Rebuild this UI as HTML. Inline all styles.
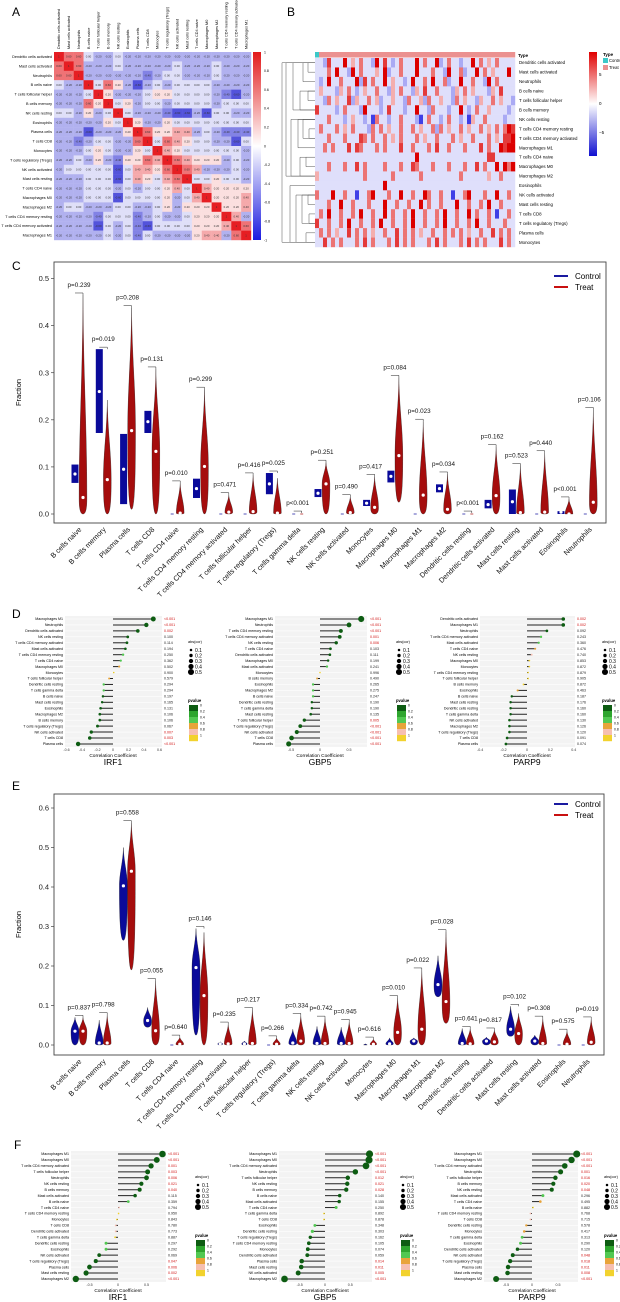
<!DOCTYPE html>
<html><head><meta charset="utf-8">
<style>
html,body{margin:0;padding:0;background:#fff;}
svg{display:block;font-family:"Liberation Sans",Arial,sans-serif;}
</style></head>
<body>
<svg id="fig" xmlns="http://www.w3.org/2000/svg" width="620" height="1302" viewBox="0 0 620 1302">
<rect x="0" y="0" width="620" height="1302" fill="#fff"/>
<text x="12" y="16" font-size="12">A</text>
<text x="287" y="16" font-size="12">B</text>
<text x="12" y="270" font-size="12">C</text>
<text x="12" y="618" font-size="12">D</text>
<text x="12" y="790" font-size="12">E</text>
<text x="14" y="1149" font-size="12">F</text>
<g id="gA"></g>
<g id="gB"></g>
<g id="gC"></g>
<g id="gD"></g>
<g id="gE"></g>
<g id="gF"></g>
</svg>
<script>
const NS="http://www.w3.org/2000/svg";
function mk(parent,tag,attrs,txt){const e=document.createElementNS(NS,tag);for(const k in attrs)e.setAttribute(k,attrs[k]);if(txt!==undefined)e.textContent=txt;parent.appendChild(e);return e;}

// ---------- Panel A data ----------
const corrLabels=["Dendritic cells activated","Mast cells activated","Neutrophils","B cells naive","T cells follicular helper","B cells memory","NK cells resting","Eosinophils","Plasma cells","T cells CD8","Monocytes","T cells regulatory (Tregs)","NK cells activated","Mast cells resting","T cells CD4 naive","Macrophages M0","Macrophages M2","T cells CD4 memory resting","T cells CD4 memory activated","Macrophages M1"];
const corrUpper=["97743343333333333333",".9733343333343334333","..933333323443334333","...94753134344443333","....9533345544443213",".....945344344443444","......94333211314433",".......9533544444444","........975566343222",".........94765443314","..........9654444443","...........976555343","............97633343",".............9445443","..............965555","...............95556","................9556",".................963","..................97","...................9"];
const corrTicks=["1","0.8","0.6","0.4","0.2","0","-0.2","-0.4","-0.6","-0.8","-1"];

// ---------- Panel B data ----------
const heatRows=["Dendritic cells activated","Mast cells activated","Neutrophils","B cells naive","T cells follicular helper","B cells memory","NK cells resting","T cells CD4 memory resting","T cells CD4 memory activated","Macrophages M1","T cells CD4 naive","Macrophages M0","Macrophages M2","Eosinophils","NK cells activated","Mast cells resting","T cells CD8","T cells regulatory (Tregs)","Plasma cells","Monocytes"];
const heatVals=["44384449464744394843474449474493474434494746474444","44474944394744464934474449444744394473449474644494","43494474449384744946443494474944734494474439474444","46444364743464474436474436484474443647464443648444","44374644836447463446443744637446443746443644746443","84444347444394443484443449443744434494347446444434","44474443464434174434474443147443474434164474444344","47444746474443747464474474644737464474644746474798","44474447444874744746474447464474447464474447464889","44747444848744474744484474447484474447444847449899","44444444444444444444444449444444444444444448844444","44474447448474444744474487444744474447448474494979","64444444444474444447444444744444444474444446447444","44444444444444444944444444444444444444444444444444","74449447441447944474494474497447441447944474494474","44474494474447444944744744947447444944744749447444","47494474474944744947447494474474944744947447414474","84474474944744749447447494474474944744749447444744","47474644847474644744847474644744747474644744847474","44847474447484744474847474447484744474847474448474"];
const heatTypes="C"+"T".repeat(49);
const dendro=[[0,1,308],[0,2,303],[3,4,308],[3,5,300],[0,5,293],[7,8,309],[6,8,303],[6,9,298],[10,11,306],[10,12,300],[6,12,291],[0,12,286],[14,15,308],[16,17,309],[14,17,302],[18,19,306],[14,19,296],[13,19,290],[0,19,282]];

// ---------- Violin data ----------
const cellTypes=["B cells naive","B cells memory","Plasma cells","T cells CD8","T cells CD4 naive","T cells CD4 memory resting","T cells CD4 memory activated","T cells follicular helper","T cells regulatory (Tregs)","T cells gamma delta","NK cells resting","NK cells activated","Monocytes","Macrophages M0","Macrophages M1","Macrophages M2","Dendritic cells resting","Dendritic cells activated","Mast cells resting","Mast cells activated","Eosinophils","Neutrophils"];
const cCtrlMin=[0.066,0.172,0.021,0.172,0,0.034,0,0,0.042,0,0.036,0,0.017,0.067,0,0.046,0,0.012,0,0,0,0];
const cCtrlMax=[0.105,0.35,0.17,0.219,0,0.075,0,0,0.087,0,0.053,0,0.03,0.092,0,0.063,0,0.03,0.052,0,0.006,0];
const cCtrlMed=[0.085,0.26,0.095,0.196,0,0.054,0,0,0.064,0,0.044,0,0.023,0.08,0,0.054,0,0.02,0.026,0,0.004,0];
const cTreatMin=[0,0,0.01,0,0,0,0,0,0,0,0,0,0,0.025,0,0,0,0,0,0,0,0];
const cTreatMax=[0.465,0.242,0.438,0.308,0.066,0.265,0.041,0.083,0.076,0.002,0.11,0.037,0.08,0.29,0.197,0.085,0.002,0.143,0.103,0.13,0.032,0.222];
const cTreatMed=[0.035,0.073,0.177,0.133,0.002,0.101,0.004,0.005,0.002,0,0.064,0.003,0.014,0.124,0.04,0.01,0,0.039,0.003,0.004,0,0.025];
const cPvals=["p=0.239","p=0.019","p=0.208","p=0.131","p=0.010","p=0.299","p=0.471","p=0.416","p=0.025","p<0.001","p=0.251","p=0.490","p=0.417","p=0.084","p=0.023","p=0.034","p<0.001","p=0.162","p=0.523","p=0.440","p<0.001","p=0.106"];
const cTicks=[0,0.1,0.2,0.3,0.4,0.5];

const eCtrlMin=[0,0,0.265,0.045,0,0.025,0,0,0,0,0,0,0,0,0,0.122,0,0,0.022,0,0,0];
const eCtrlMax=[0.07,0.063,0.5,0.095,0.002,0.295,0.008,0.01,0.002,0.04,0.047,0.045,0.003,0.018,0.018,0.226,0.042,0.02,0.098,0.025,0.001,0.001];
const eCtrlMed=[0.035,0.005,0.403,0.062,0,0.196,0.003,0.003,0,0.005,0.004,0.004,0,0.003,0.01,0.153,0.004,0.01,0.04,0.01,0,0];
const eTreatMin=[0,0,0.19,0,0,0,0,0,0,0,0,0,0,0,0,0.055,0,0,0,0,0,0];
const eTreatMax=[0.07,0.077,0.563,0.163,0.02,0.285,0.053,0.09,0.018,0.075,0.068,0.06,0.015,0.12,0.19,0.287,0.042,0.038,0.08,0.068,0.035,0.066];
const eTreatMed=[0.035,0.005,0.44,0.036,0.002,0.125,0.003,0.004,0.002,0.01,0.004,0.004,0.002,0.032,0.04,0.11,0.003,0.008,0.029,0.004,0.002,0.007];
const ePvals=["p=0.837","p=0.798","p=0.558","p=0.055","p=0.640","p=0.146","p=0.235","p=0.217","p=0.266","p=0.334","p=0.742","p=0.945","p=0.616","p=0.010","p=0.022","p=0.028","p=0.641","p=0.817","p=0.102","p=0.308","p=0.575","p=0.019"];
const eTicks=[0,0.1,0.2,0.3,0.4,0.5,0.6];

// ---------- Lollipop data ----------
const dIrf1Labels=["Macrophages M1","Neutrophils","Dendritic cells activated","NK cells resting","T cells CD4 memory activated","Mast cells activated","T cells CD4 memory resting","T cells CD4 naive","Macrophages M0","Monocytes","T cells follicular helper","Dendritic cells resting","T cells gamma delta","B cells naive","Mast cells resting","Eosinophils","Macrophages M2","B cells memory","T cells regulatory (Tregs)","NK cells activated","T cells CD8","Plasma cells"];
const dIrf1Vals=[0.52,0.43,0.32,0.19,0.18,0.16,0.13,0.10,0.08,0.01,-0.05,-0.12,-0.12,-0.13,-0.14,-0.16,-0.17,-0.17,-0.2,-0.28,-0.3,-0.45];
const dIrf1P=["<0.001","<0.001","0.002","0.100","0.114","0.194","0.250","0.362","0.502","0.900","0.579","0.294","0.294","0.197","0.165","0.131","0.106","0.106","0.067","0.007","0.003","<0.001"];
const dGbp5Labels=["Macrophages M1","Neutrophils","T cells CD4 memory resting","T cells CD4 memory activated","NK cells resting","T cells CD4 naive","Dendritic cells activated","Macrophages M0","Mast cells activated","Monocytes","B cells memory","Eosinophils","Macrophages M2","B cells naive","Dendritic cells resting","T cells gamma delta","Mast cells resting","T cells follicular helper","T cells regulatory (Tregs)","NK cells activated","T cells CD8","Plasma cells"];
const dGbp5Vals=[0.71,0.50,0.36,0.34,0.28,0.18,0.17,0.14,0.12,0.0,-0.05,-0.12,-0.12,-0.12,-0.14,-0.14,-0.16,-0.27,-0.34,-0.40,-0.49,-0.54];
const dGbp5P=["<0.001","<0.001","<0.001","0.001","0.006","0.103","0.111","0.199","0.241","0.996","0.490","0.265","0.275","0.247","0.190","0.190","0.135","0.005","<0.001","<0.001","<0.001","<0.001"];
const dParp9Labels=["Dendritic cells activated","Macrophages M1","Neutrophils","T cells CD4 memory activated","Mast cells activated","T cells CD4 naive","NK cells resting","Macrophages M0","Monocytes","T cells CD4 memory resting","T cells follicular helper","B cells memory","Eosinophils","B cells naive","Mast cells resting","Dendritic cells resting","T cells gamma delta","NK cells activated","Macrophages M2","T cells regulatory (Tregs)","T cells CD8","Plasma cells"];
const dParp9Vals=[0.31,0.31,0.17,0.12,0.10,0.07,0.04,0.02,0.02,0.01,0.01,-0.03,-0.08,-0.13,-0.14,-0.14,-0.14,-0.15,-0.15,-0.15,-0.17,-0.18];
const dParp9P=["0.002","0.002","0.092","0.243","0.360","0.476","0.740","0.853","0.872","0.879","0.905","0.872","0.463","0.187","0.176","0.160","0.160","0.130","0.126","0.120","0.091","0.074"];

const fIrf1Labels=["Macrophages M1","Macrophages M0","T cells CD4 memory activated","T cells follicular helper","Neutrophils","NK cells resting","B cells memory","Mast cells activated","B cells naive","T cells CD4 naive","T cells CD4 memory resting","Monocytes","T cells CD8","Dendritic cells activated","T cells gamma delta","Dendritic cells resting","Eosinophils","NK cells activated","T cells regulatory (Tregs)","Plasma cells","Mast cells resting","Macrophages M2"];
const fIrf1Vals=[0.78,0.68,0.58,0.52,0.50,0.41,0.38,0.30,0.18,0.02,0.01,-0.02,-0.04,-0.04,-0.05,-0.21,-0.21,-0.33,-0.39,-0.50,-0.56,-0.74];
const fIrf1P=["<0.001","<0.001","0.001","0.003","0.006","0.021","0.040","0.115","0.359","0.794","0.950","0.843","0.780","0.773","0.887","0.297","0.292","0.069","0.047","0.006","0.002","<0.001"];
const fGbp5Labels=["Macrophages M1","Macrophages M0","T cells CD4 memory activated","Neutrophils","T cells follicular helper","NK cells resting","B cells memory","B cells naive","Mast cells activated","T cells CD4 naive","T cells gamma delta","T cells CD8","Eosinophils","Dendritic cells resting","T cells regulatory (Tregs)","T cells CD4 memory resting","Monocytes","Dendritic cells activated","Plasma cells","Mast cells resting","NK cells activated","Macrophages M2"];
const fGbp5Vals=[0.88,0.87,0.81,0.60,0.45,0.44,0.42,0.29,0.28,0.22,-0.02,-0.02,-0.20,-0.25,-0.29,-0.32,-0.34,-0.35,-0.46,-0.47,-0.53,-0.80];
const fGbp5P=["<0.001","<0.001","<0.001","<0.001","0.012","0.021","0.028","0.140","0.155","0.250","0.892","0.878","0.348","0.303","0.162","0.105","0.074","0.059","0.014","0.011","0.005","<0.001"];
const fParp9Labels=["Macrophages M1","Macrophages M0","T cells CD4 memory activated","Neutrophils","T cells follicular helper","B cells memory","NK cells resting","Mast cells activated","T cells CD4 naive","B cells naive","T cells CD4 memory resting","T cells CD8","Dendritic cells resting","Monocytes","T cells gamma delta","Eosinophils","Dendritic cells activated","NK cells activated","T cells regulatory (Tregs)","Plasma cells","Mast cells resting","Macrophages M2"];
const fParp9Vals=[0.86,0.76,0.63,0.55,0.45,0.41,0.38,0.21,0.16,0.02,-0.03,-0.03,-0.11,-0.15,-0.19,-0.22,-0.28,-0.37,-0.42,-0.46,-0.47,-0.69];
const fParp9P=["<0.001","<0.001","<0.001","0.001","0.016","0.020","0.048","0.296","0.495","0.882","0.768","0.715","0.578","0.417","0.313","0.290","0.120","0.048","0.018","0.011","0.008","<0.001"];
const sizeLegendVals=["0.1","0.2","0.3","0.4","0.5"];
const pLegendVals=["0","0.2","0.4","0.6","0.8","1"];

// ---------- helpers ----------
function mix(a,b,t){return "rgb("+a.map((v,i)=>Math.round(v+(b[i]-v)*t)).join(",")+")";}
function divColor(v,neg,pos){const w=[255,255,255];if(v>=0)return mix(w,pos,Math.min(1,v));return mix(w,neg,Math.min(1,-v));}

// ---------- Panel A ----------
(function(){
  const g=document.getElementById('gA');
  const x0=54,y0=52,cw=(251-54)/20,ch=(240-52)/20,n=corrLabels.length;
  for(let i=0;i<n;i++){
    const t=mk(g,'text',{x:x0-2,y:y0+ch*(i+0.5)+1.3,'font-size':3.8,'text-anchor':'end'},corrLabels[i]);
    
    
    const cx=x0+cw*(i+0.5);
    const c=mk(g,'text',{x:0,y:0,'font-size':3.8,transform:`translate(${cx+1.3},${y0-3}) rotate(-90)`},corrLabels[i]);
    
    
    for(let j=0;j<n;j++){
      const a=Math.min(i,j),b=Math.max(i,j);
      const d=parseInt(corrUpper[a][b]);
      const v=(d-4.4)/4.6;
      const col=v>=0?divColor(Math.min(1,v*1.1),[40,40,210],[230,30,35]):divColor(Math.max(-1,v-0.06),[40,40,210],[230,30,35]);
      const r=mk(g,'rect',{x:x0+cw*j,y:y0+ch*i,width:cw+0.2,height:ch+0.2,fill:col});
      
      
      const txt=i===j?"1":((d-4)/5).toFixed(2);
      const ct=mk(g,'text',{x:x0+cw*(j+0.5),y:y0+ch*(i+0.5)+1,'font-size':2.8,'text-anchor':'middle',fill:'#333'},txt);
      
      
    }
  }
  const defs=mk(g,'defs',{});
  const lg=mk(defs,'linearGradient',{id:'gradA',x1:0,y1:0,x2:0,y2:1});
  mk(lg,'stop',{offset:'0','stop-color':'#e21a1c'});mk(lg,'stop',{offset:'0.5','stop-color':'#ffffff'});mk(lg,'stop',{offset:'1','stop-color':'#1a1ae0'});
  const cb=mk(g,'rect',{x:253,y:52,width:8,height:188,fill:'url(#gradA)'});
  
  
  corrTicks.forEach((tk,k)=>{
    const t=mk(g,'text',{x:264,y:52+188*k/10+1.3,'font-size':3.5},tk);
    
    
  });
})();

// ---------- Panel B ----------
(function(){
  const g=document.getElementById('gB');
  const x0=315,x1=515,y0=58,y1=247,nc=heatVals[0].length,nr=heatRows.length;
  const cw=(x1-x0)/nc,rh=(y1-y0)/nr;
  for(let j=0;j<nc;j++){
    const r=mk(g,'rect',{x:x0+cw*j,y:52,width:cw+0.2,height:5.5,fill:heatTypes[j]==='C'?'#3cc8c8':'#eb9190'});
    
    
  }
  const tt=mk(g,'text',{x:518,y:57,'font-size':4.5,'font-weight':'bold'},'Type');
  
  
  for(let i=0;i<nr;i++){
    for(let j=0;j<nc;j++){
      const d=parseInt(heatVals[i][j]);
      const v=(d-4.6)/4.4;
      const r=mk(g,'rect',{x:x0+cw*j,y:y0+rh*i,width:cw+0.2,height:rh+0.2,fill:divColor(v,[20,20,225],[220,0,0])});
      
      
    }
    const t=mk(g,'text',{x:519,y:y0+rh*(i+0.5)+1.5,'font-size':4.4},heatRows[i]);
    
    
  }
  const yc=i=>y0+rh*(i+0.5);
  dendro.forEach(b=>{
    const p=mk(g,'path',{d:`M${x0} ${yc(b[0])}H${b[2]}V${yc(b[1])}H${x0}`,fill:'none',stroke:'#555','stroke-width':0.5});
    
    
  });
  const defs=mk(g,'defs',{});
  const lg=mk(defs,'linearGradient',{id:'gradB',x1:0,y1:0,x2:0,y2:1});
  mk(lg,'stop',{offset:'0','stop-color':'#e00000'});mk(lg,'stop',{offset:'0.5','stop-color':'#ffffff'});mk(lg,'stop',{offset:'1','stop-color':'#1010d0'});
  const cb=mk(g,'rect',{x:589,y:52,width:8,height:104,fill:'url(#gradB)'});
  
  
  [["5",76],["0",105],["−5",134]].forEach(a=>{
    const t=mk(g,'text',{x:599,y:a[1],'font-size':4.5},a[0]);
    
    
  });
  const lt=mk(g,'text',{x:603,y:56,'font-size':4.5,'font-weight':'bold'},'Type');
  
  
  [['#3cc8c8','Control',58],['#eb9190','Treat',65]].forEach(a=>{
    const r=mk(g,'rect',{x:603,y:a[2],width:5,height:5,fill:a[0]});
    
    
    const t=mk(g,'text',{x:609,y:a[2]+4,'font-size':4.2},a[1]);
    
    
  });
})();

// ---------- Violins ----------
function violinChart(gid,cfg){
  const g=document.getElementById(gid);
  const yS=v=>cfg.y0-v*cfg.k;
  const bx=mk(g,'rect',{x:cfg.bl,y:cfg.bt,width:cfg.br-cfg.bl,height:cfg.bb-cfg.bt,fill:'none',stroke:'#444','stroke-width':0.9});
  
  
  cfg.ticks.forEach(t=>{
    mk(g,'line',{x1:cfg.bl-3,x2:cfg.bl,y1:yS(t),y2:yS(t),stroke:'#444','stroke-width':0.7});
    const tx=mk(g,'text',{x:cfg.bl-5,y:yS(t)+2.6,'font-size':7.5,'text-anchor':'end',fill:'#222'},t.toFixed(1));
    
    
  });
  const yl=mk(g,'text',{x:0,y:0,'font-size':7.5,'text-anchor':'middle',transform:`translate(21,${(cfg.bt+cfg.bb)/2}) rotate(-90)`},'Fraction');
  
  
  function violin(cx,mn,mx,md,hw,fill,rectStyle,name){
    if(mx-mn<0.0025){
      const l=mk(g,'line',{x1:cx-1.5,x2:cx+1.5,y1:yS(mn),y2:yS(mn),stroke:fill,'stroke-width':0.7});
      
      
      return;
    }
    const yb=yS(mn),yt=yS(mx),ym=yS(md);
    let el;
    if(rectStyle){
      el=mk(g,'rect',{x:cx-hw,y:yt,width:hw*2,height:yb-yt,fill:fill});
    }else{
      const w=Math.max(1.2,hw*Math.min(1,(yb-yt)/12+0.35));
      const d=`M${cx} ${yb}C${cx+w} ${yb} ${cx+w} ${ym+(yb-ym)*0.3} ${cx+w} ${ym}C${cx+w} ${ym-(ym-yt)*0.35} ${cx+0.4} ${yt+(ym-yt)*0.4} ${cx} ${yt}C${cx-0.4} ${yt+(ym-yt)*0.4} ${cx-w} ${ym-(ym-yt)*0.35} ${cx-w} ${ym}C${cx-w} ${ym+(yb-ym)*0.3} ${cx-w} ${yb} ${cx} ${yb}Z`;
      el=mk(g,'path',{d:d,fill:fill,stroke:'#111','stroke-width':0.3});
    }
    
    
    if(yb-yt>2){
      const c=mk(g,'circle',{cx:cx,cy:ym,r:1.6,fill:'#fff'});
      
      
    }
  }
  cellTypes.forEach((ct,i)=>{
    const gc=cfg.x0+i*cfg.step;
    violin(gc-4,cfg.cMin[i],cfg.cMax[i],cfg.cMed[i],cfg.ctrlRect?3.5:4,'#0a0a9a',cfg.ctrlRect,'control-violin');
    violin(gc+4,cfg.tMin[i],cfg.tMax[i],cfg.tMed[i],3.9,'#a50d0d',false,'treat-violin');
    const top=Math.max(cfg.cMax[i],cfg.tMax[i]);
    const ty=yS(top)-2;
    const br=mk(g,'path',{d:`M${gc-4} ${ty}H${gc+4}V${ty+2}`,fill:'none',stroke:'#222','stroke-width':0.5});
    
    
    const pt=mk(g,'text',{x:gc,y:ty-6,'font-size':6.3,'text-anchor':'middle',fill:'#111'},cfg.p[i]);
    
    
    const xl=mk(g,'text',{x:0,y:0,'font-size':7.2,'text-anchor':'end',fill:'#111',transform:`translate(${gc+3},${cfg.bb+7}) rotate(-45)`},ct);
    
    
  });
  [['#1a1aa0','Control',cfg.ly],['#c81010','Treat',cfg.ly+11]].forEach(a=>{
    const l=mk(g,'line',{x1:554,x2:568,y1:a[2],y2:a[2],stroke:a[0],'stroke-width':2});
    
    
    const t=mk(g,'text',{x:575,y:a[2]+2.8,'font-size':8},a[1]);
    
    
  });
}
violinChart('gC',{bl:54,br:606,bt:262,bb:523,y0:514,k:471,x0:79,step:24.3,ticks:cTicks,cMin:cCtrlMin,cMax:cCtrlMax,cMed:cCtrlMed,tMin:cTreatMin,tMax:cTreatMax,tMed:cTreatMed,p:cPvals,ctrlRect:true,ly:276});
violinChart('gE',{bl:54,br:604,bt:794,bb:1055,y0:1045,k:395,x0:79,step:24.2,ticks:eTicks,cMin:eCtrlMin,cMax:eCtrlMax,cMed:eCtrlMed,tMin:eTreatMin,tMax:eTreatMax,tMed:eTreatMed,p:ePvals,ctrlRect:false,ly:804});

// ---------- Lollipops ----------
const pColors=["#0d5c12","#2ea52e","#52c852","#e8a43a","#f6bfb0","#f2d22e"];
function pColor(p){const v=p.startsWith("<")?0:parseFloat(p);if(v<0.2)return pColors[0];if(v<0.4)return pColors[2];if(v<0.6)return pColors[3];if(v<0.8)return pColors[4];return pColors[5];}
function lollipop(gid,c,labels,vals,ps,gene,ticks){
  const g=document.getElementById(gid);
  const n=labels.length,bottom=c.y0+c.step*(n-1);
  const bg=mk(g,'rect',{x:c.pl,y:c.y0-3,width:c.pr-c.pl,height:bottom-c.y0+6,fill:'#f3f3f3'});
  
  
  const xS=v=>c.zero+v*c.k;
  labels.forEach((lb,i)=>{
    const y=c.y0+c.step*i;
    mk(g,'line',{x1:c.pl,x2:c.pr,y1:y,y2:y,stroke:'#fff','stroke-width':0.6});
    const t=mk(g,'text',{x:c.labR,y:y+1.2,'font-size':3.6,'text-anchor':'end'},lb);
    
    
    const l=mk(g,'line',{x1:xS(0),x2:xS(vals[i]),y1:y,y2:y,stroke:'#222','stroke-width':1});
    
    
    const d=mk(g,'circle',{cx:xS(vals[i]),cy:y,r:0.8+Math.abs(vals[i])*3.2,fill:pColor(ps[i])});
    
    
    const v=ps[i].startsWith("<")?0:parseFloat(ps[i]);
    const pt=mk(g,'text',{x:c.pX,y:y+1.2,'font-size':3.6,fill:v<0.05?'#d01010':'#222'},ps[i]);
    
    
  });
  ticks.forEach(tk=>{
    const t=mk(g,'text',{x:xS(tk),y:c.ty,'font-size':3.6,'text-anchor':'middle',fill:'#333'},String(tk));
    
    
  });
  const at=mk(g,'text',{x:xS(0),y:c.ty+6,'font-size':4.8,'text-anchor':'middle'},'Correlation Coefficient');
  
  
  const gt=mk(g,'text',{x:xS(0),y:c.ty+14,'font-size':8.5,'text-anchor':'middle'},gene);
  
  
  const st=mk(g,'text',{x:c.legX-2,y:c.sy,'font-size':3.8},'abs(cor)');
  
  
  sizeLegendVals.forEach((s,k)=>{
    const yy=c.sy+7+k*5.5;
    const ci=mk(g,'circle',{cx:c.legX+1,cy:yy,r:0.8+parseFloat(s)*4.5,fill:'#000'});
    
    
    const tt=mk(g,'text',{x:c.legX+5,y:yy+1.8,'font-size':5},s);
    
    
  });
  const pt=mk(g,'text',{x:c.legX-2,y:c.py,'font-size':4.2,'font-weight':'bold'},'pvalue');
  
  
  pColors.forEach((col,k)=>{
    const r=mk(g,'rect',{x:c.legX-1,y:c.py+3+k*6,width:9,height:6.2,fill:col});
    
    
    const t=mk(g,'text',{x:c.legX+10,y:c.py+4.5+k*6,'font-size':3.4},pLegendVals[k]);
    
    
  });
}
const dBase={y0:619,step:5.95,ty:751,sy:643,py:702};
lollipop('gD',Object.assign({},dBase,{labR:63,pl:65,pr:162,zero:113,k:77.5,pX:164,legX:190}),dIrf1Labels,dIrf1Vals,dIrf1P,'IRF1',[-0.6,-0.4,-0.2,0,0.2,0.4,0.6]);
lollipop('gD',Object.assign({},dBase,{labR:273,pl:275,pr:367,zero:320,k:58,pX:370,legX:398}),dGbp5Labels,dGbp5Vals,dGbp5P,'GBP5',[-0.5,0,0.5]);
lollipop('gD',Object.assign({},dBase,{labR:478,pl:480,pr:575,zero:527,k:117,pX:577,legX:604}),dParp9Labels,dParp9Vals,dParp9P,'PARP9',[-0.4,-0.2,0,0.2,0.4]);
const fBase={y0:1154,step:5.95,ty:1286,sy:1178,py:1237};
lollipop('gF',Object.assign({},fBase,{labR:69,pl:71,pr:166,zero:118,k:57,pX:168,legX:197}),fIrf1Labels,fIrf1Vals,fIrf1P,'IRF1',[-0.5,0,0.5]);
lollipop('gF',Object.assign({},fBase,{labR:277,pl:279,pr:372,zero:325,k:50.6,pX:375,legX:402}),fGbp5Labels,fGbp5Vals,fGbp5P,'GBP5',[-0.5,0,0.5]);
lollipop('gF',Object.assign({},fBase,{labR:482,pl:484,pr:578,zero:532,k:52,pX:581,legX:606}),fParp9Labels,fParp9Vals,fParp9P,'PARP9',[-0.5,0,0.5]);
</script>
</body></html>
